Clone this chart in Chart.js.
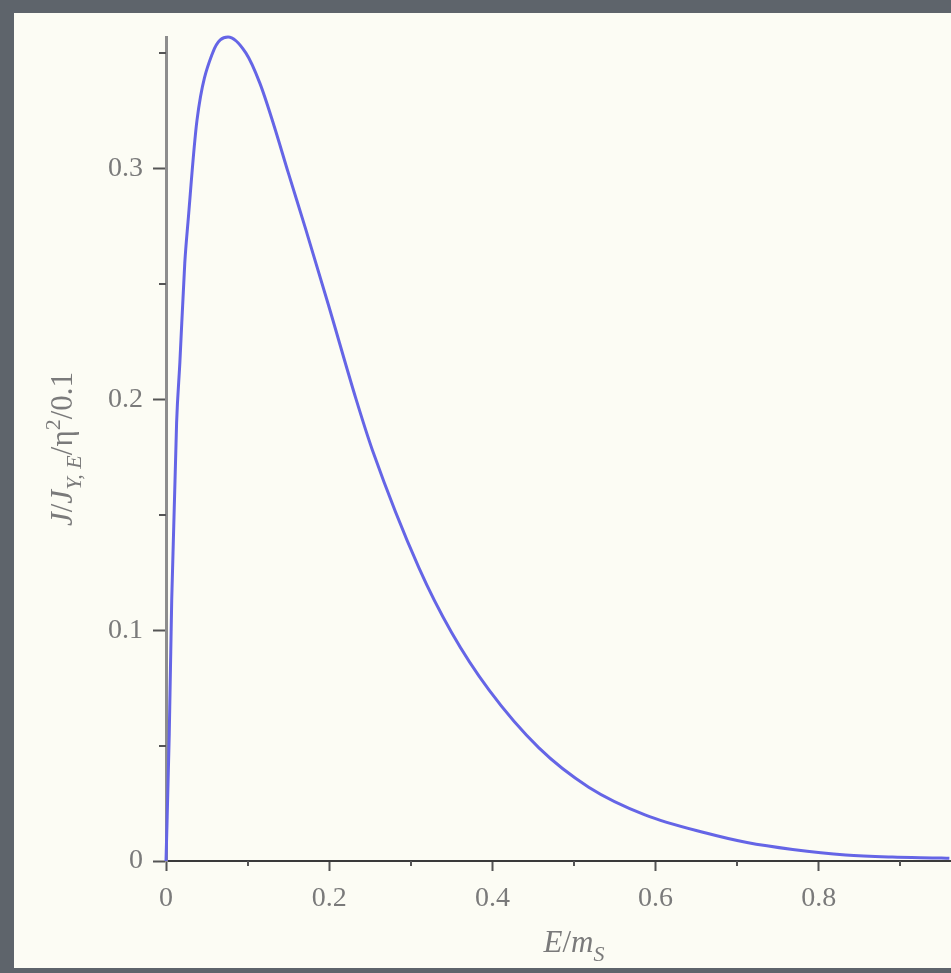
<!DOCTYPE html>
<html>
<head>
<meta charset="utf-8">
<script src="https://cdn.jsdelivr.net/npm/chart.js@4"></script>
<style>
  html, body { margin: 0; padding: 0; background: #5e646b; }
  #wrap { width: 951px; height: 973px; overflow: hidden; position: relative; }
  canvas { display: block; }
</style>
</head>
<body>
<div id="wrap"><canvas id="c" width="1000" height="973"></canvas></div>
<script>
// ---- data ----
const energy = [0, 0.004, 0.007, 0.013, 0.017, 0.023, 0.027, 0.038, 0.057, 0.076, 0.098, 0.115, 0.132, 0.150, 0.171, 0.199, 0.233, 0.253, 0.310, 0.350, 0.396, 0.457, 0.518, 0.587, 0.663, 0.712, 0.768, 0.833, 0.890, 0.950, 0.960];
const ratio  = [0, 0.055, 0.113, 0.190, 0.216, 0.259, 0.277, 0.321, 0.350, 0.357, 0.350, 0.337, 0.319, 0.298, 0.274, 0.241, 0.200, 0.178, 0.127, 0.099, 0.074, 0.049, 0.032, 0.020, 0.012, 0.008, 0.005, 0.0026, 0.0017, 0.0013, 0.0012];
const xMajorTicks = [0, 0.2, 0.4, 0.6, 0.8, 1.0];
const xMinorTicks = [0.1, 0.3, 0.5, 0.7, 0.9];
const yMajorTicks = [0, 0.1, 0.2, 0.3];
const yMinorTicks = [0.05, 0.15, 0.25, 0.35];
const xTitleParts = [{t: 'E', it: true}, {t: '/', it: false}, {t: 'm', it: true}, {t: 'S', it: true, sub: true}];
const yTitleParts = [{t: 'J', it: true}, {t: '/', it: false}, {t: 'J', it: true}, {t: 'Υ, E', it: true, sub: true}, {t: '/η', it: false}, {t: '2', it: false, sup: true}, {t: '/0.1', it: false}];

const FONT = '"Liberation Serif", "Times New Roman", serif';
const LABEL_COLOR = '#7a7a7a';

const points = energy.map((e, i) => ({x: e, y: ratio[i]}));

function drawParts(ctx, parts, size) {
  const fontFor = p => (p.it ? 'italic ' : '') + (p.sub || p.sup ? Math.round(size * 0.72) : size) + 'px ' + FONT;
  let total = 0;
  parts.forEach(p => { ctx.font = fontFor(p); total += ctx.measureText(p.t).width; });
  let x = -total / 2;
  parts.forEach(p => {
    ctx.font = fontFor(p);
    let dy = 0;
    if (p.sub) dy = size * 0.28;
    if (p.sup) dy = -size * 0.4;
    ctx.fillText(p.t, x, dy);
    x += ctx.measureText(p.t).width;
  });
}

const decor = {
  id: 'decor',
  beforeDraw(chart) {
    const ctx = chart.ctx;
    ctx.save();
    ctx.fillStyle = '#5e646b';
    ctx.fillRect(0, 0, chart.width, chart.height);
    ctx.fillStyle = '#fcfcf4';
    ctx.fillRect(14, 13, chart.width - 14, 955);
    ctx.restore();
  },
  afterDraw(chart) {
    const ctx = chart.ctx;
    const xs = chart.scales.x, ys = chart.scales.y;
    ctx.save();
    ctx.strokeStyle = '#555';
    ctx.lineWidth = 2;
    yMinorTicks.forEach(v => {
      const py = Math.round(ys.getPixelForValue(v));
      ctx.beginPath(); ctx.moveTo(xs.left - 7, py); ctx.lineTo(xs.left, py); ctx.stroke();
    });
    xMinorTicks.forEach(v => {
      const px = Math.round(xs.getPixelForValue(v));
      ctx.beginPath(); ctx.moveTo(px, ys.bottom); ctx.lineTo(px, ys.bottom + 5); ctx.stroke();
    });
    // axis titles
    ctx.fillStyle = LABEL_COLOR;
    ctx.textBaseline = 'alphabetic';
    ctx.textAlign = 'left';
    ctx.save();
    ctx.translate((xs.left + xs.right) / 2, 952);
    drawParts(ctx, xTitleParts, 31);
    ctx.restore();
    ctx.save();
    ctx.translate(72, 449);
    ctx.rotate(-Math.PI / 2);
    drawParts(ctx, yTitleParts, 31);
    ctx.restore();
    ctx.restore();
  }
};

new Chart(document.getElementById('c'), {
  type: 'scatter',
  data: {
    datasets: [{
      data: points,
      showLine: true,
      borderColor: '#6565e6',
      borderWidth: 3,
      pointRadius: 0,
      cubicInterpolationMode: 'monotone',
      fill: false,
      clip: 6
    }]
  },
  options: {
    responsive: false,
    devicePixelRatio: 1,
    animation: false,
    layout: { padding: { top: 37, right: 10, left: 0, bottom: 0 } },
    plugins: { legend: { display: false }, tooltip: { enabled: false } },
    scales: {
      x: {
        type: 'linear', min: 0, max: 1.0,
        afterFit(s) { s.height = 112; },
        afterBuildTicks(s) { s.ticks = xMajorTicks.map(v => ({value: v})); },
        grid: { drawOnChartArea: false, drawTicks: true, tickLength: 10, tickColor: '#555', tickWidth: 2 },
        border: { display: true, color: '#3a3a3a', width: 2 },
        ticks: { padding: 11, color: LABEL_COLOR, font: { family: FONT, size: 28 },
                 maxRotation: 0, callback: v => String(Math.round(v * 10) / 10) }
      },
      y: {
        type: 'linear', min: 0, max: 0.357,
        afterFit(s) { s.width = 166; },
        afterBuildTicks(s) { s.ticks = yMajorTicks.map(v => ({value: v})); },
        grid: { drawOnChartArea: false, drawTicks: true, tickLength: 13, tickColor: '#555', tickWidth: 2 },
        border: { display: true, color: '#8d8d8d', width: 3 },
        ticks: { padding: 10, color: LABEL_COLOR, font: { family: FONT, size: 28 },
                 callback: v => String(Math.round(v * 10) / 10) }
      }
    }
  },
  plugins: [decor]
});
</script>
</body>
</html>
